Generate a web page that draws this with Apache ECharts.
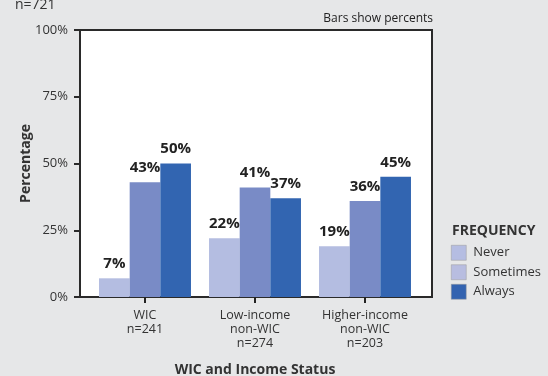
<!DOCTYPE html>
<html><head><meta charset="utf-8">
<script src="https://cdn.jsdelivr.net/npm/echarts@6/dist/echarts.min.js"></script>
<style>html,body{margin:0;padding:0;background:#e6e7e8;}#c{width:548px;height:376px;}</style>
</head><body><div id="c"></div>
<script>
const categories = ['WIC\nn=241', 'Low-income\nnon-WIC\nn=274', 'Higher-income\nnon-WIC\nn=203'];
const seriesNames = ['Never', 'Sometimes', 'Always'];
const never = [7, 22, 19];
const sometimes = [43, 41, 36];
const always = [50, 37, 45];
const yTicks = [0, 25, 50, 75, 100];

const FONT = '"Open Sans", sans-serif';
const colors = ['#b4bde1', '#798bc6', '#3265b1'];
const legendColors = ['#b5bde2', '#b8bde0', '#3363b0'];
const values = [never, sometimes, always];

const chart = echarts.init(document.getElementById('c'));
chart.setOption({
  backgroundColor: '#e6e7e8',
  animation: false,
  textStyle: { fontFamily: FONT },
  title: [
    { text: 'n=721', left: 10, top: -7, textStyle: { fontFamily: FONT, fontSize: 14, fontWeight: 'normal', color: '#333' } },
    { text: 'Bars show percents', right: 110, top: 8, textStyle: { fontFamily: FONT, fontSize: 12, fontWeight: 'normal', color: '#222' } },
    { text: 'FREQUENCY', left: 447, top: 219, textStyle: { fontFamily: FONT, fontSize: 14, fontWeight: 'bold', color: '#333' } }
  ],
  legend: {
    orient: 'vertical', left: 446, top: 240, itemWidth: 15, itemHeight: 15, itemGap: 4,
    textStyle: { fontFamily: FONT, fontSize: 13, color: '#333', padding: [0, 0, 0, 2] },
    data: seriesNames.map((n, i) => ({ name: n, icon: 'rect', itemStyle: { color: legendColors[i], borderColor: '#999', borderWidth: 0.5 } }))
  },
  grid: [
    { left: 80, right: 116, top: 30, bottom: 79, outerBoundsMode: 'none', containLabel: false, show: true, backgroundColor: '#ffffff', borderColor: '#2a2a2a', borderWidth: 2 },
    { left: 90, right: 128, top: 30, bottom: 79, outerBoundsMode: 'none', containLabel: false }
  ],
  xAxis: [
    { gridIndex: 0, type: 'value', min: 0, max: 1, show: false },
    { gridIndex: 1, type: 'category', data: categories, boundaryGap: true,
      axisLine: { show: false },
      axisTick: { show: true, alignWithLabel: true, length: 6, lineStyle: { color: '#222', width: 2 } },
      axisLabel: { interval: 0, fontFamily: FONT, fontSize: 12.5, color: '#333', lineHeight: 14, margin: 11 },
      name: 'WIC and Income Status', nameLocation: 'middle', nameGap: 66, nameMoveOverlap: false,
      nameTextStyle: { fontFamily: FONT, fontSize: 14, fontWeight: 'bold', color: '#333' } }
  ],
  yAxis: [
    { gridIndex: 0, type: 'value', min: yTicks[0], max: yTicks[yTicks.length - 1], interval: 25,
      axisLine: { show: true, lineStyle: { color: '#2a2a2a', width: 2 } },
      axisTick: { show: true, length: 6, lineStyle: { color: '#2a2a2a', width: 2 } },
      splitLine: { show: false },
      axisLabel: { fontFamily: FONT, fontSize: 13, color: '#333', margin: 12, formatter: '{value}%' },
      name: 'Percentage', nameLocation: 'middle', nameGap: 47, nameMoveOverlap: false,
      nameTextStyle: { fontFamily: FONT, fontSize: 14, fontWeight: 'bold', color: '#333' } },
    { gridIndex: 1, type: 'value', min: 0, max: 100, show: false }
  ],
  series: seriesNames.map((n, i) => ({
    name: n, type: 'bar', xAxisIndex: 1, yAxisIndex: 1,
    data: values[i], barGap: '0%', barCategoryGap: '16.4%',
    itemStyle: { color: colors[i] },
    label: { show: true, position: 'top', distance: 7, formatter: '{c}%',
      fontFamily: FONT, fontSize: 15, fontWeight: 'bold', color: '#222' }
  }))
});
</script></body></html>
